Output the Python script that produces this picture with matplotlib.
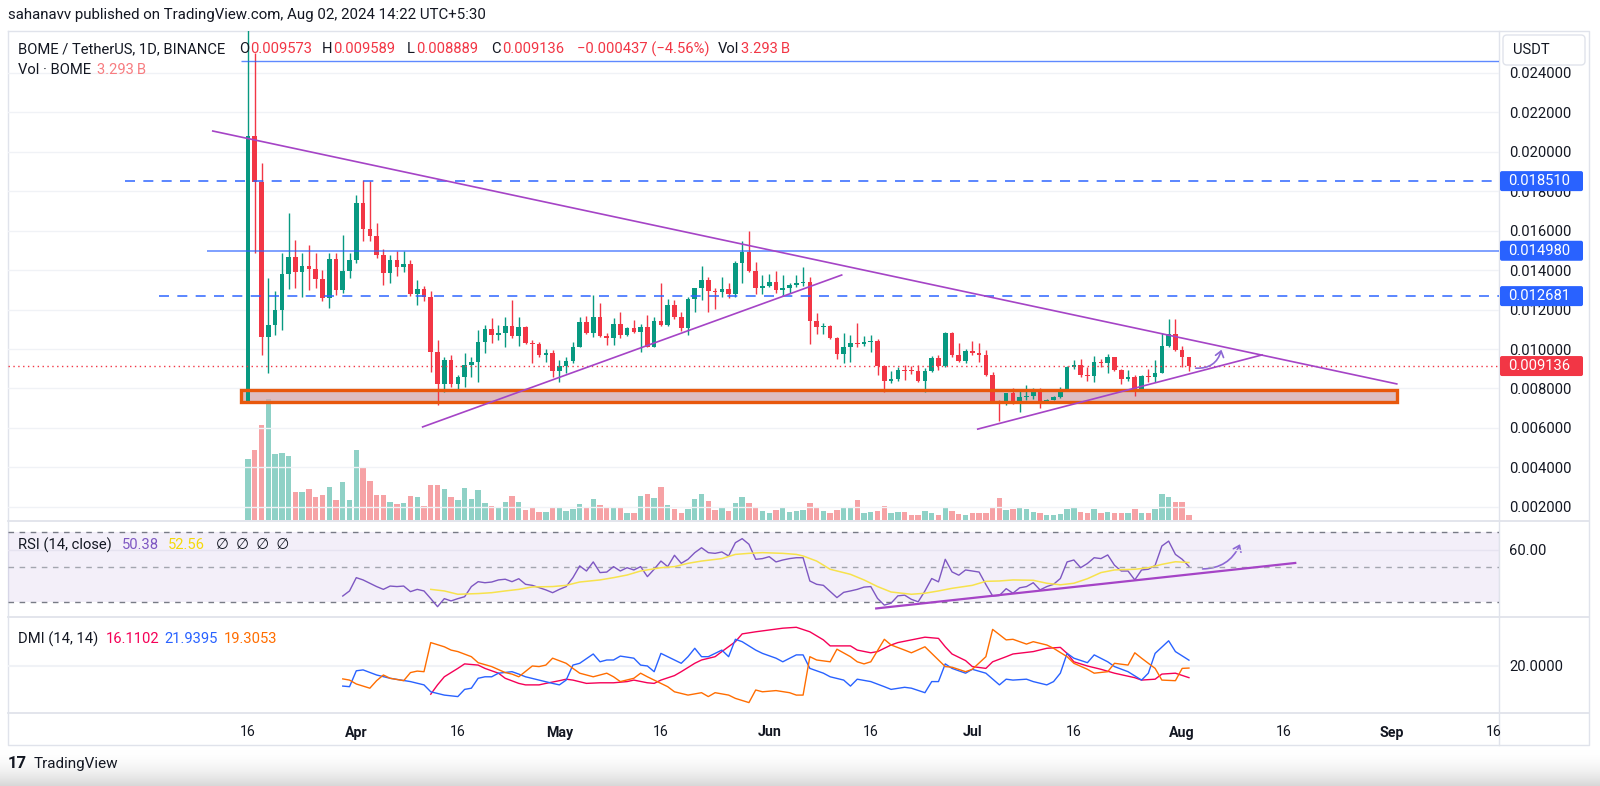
import numpy as np
import matplotlib
matplotlib.use("Agg")
import matplotlib.pyplot as plt
from matplotlib.patches import Rectangle, FancyBboxPatch, FancyArrowPatch
from matplotlib.colors import LinearSegmentedColormap

plt.rcParams['font.family'] = ['Roboto', 'DejaVu Sans']

# BOME / USDT daily candles, index 0 = Mar 16 2024, last = Aug 02 2024
first_open = 0.00732
closes = [
    # Mar 16 - 31
    0.02080, 0.01846, 0.01063, 0.01122, 0.01198, 0.01380, 0.01464, 0.01388, 0.01422, 0.01408,
    0.01354, 0.01261, 0.01456, 0.01297, 0.01393, 0.01453,
    # Apr
    0.01741, 0.01608, 0.01575, 0.01478, 0.01385, 0.01453, 0.01414, 0.01432, 0.01278, 0.01303,
    0.01266, 0.00986, 0.00822, 0.00944, 0.00825, 0.00856, 0.00919, 0.00936, 0.01037, 0.01100,
    0.01071, 0.01080, 0.01117, 0.01066, 0.01110, 0.01029, 0.01024, 0.00971, 0.00981, 0.00888,
    # May
    0.00915, 0.00937, 0.01012, 0.01136, 0.01083, 0.01164, 0.01066, 0.01054, 0.01125, 0.01071,
    0.01105, 0.01088, 0.01114, 0.01012, 0.01144, 0.01122, 0.01224, 0.01161, 0.01108, 0.01256,
    0.01307, 0.01351, 0.01292, 0.01290, 0.01303, 0.01280, 0.01436, 0.01490, 0.01397, 0.01308,
    0.01317,
    # Jun
    0.01339, 0.01300, 0.01308, 0.01325, 0.01334, 0.01341, 0.01144, 0.01114, 0.01117, 0.01054,
    0.00975, 0.01008, 0.01029, 0.01025, 0.01037, 0.01041, 0.00914, 0.00839, 0.00849, 0.00893,
    0.00891, 0.00888, 0.00837, 0.00890, 0.00956, 0.00914, 0.01080, 0.00969, 0.00939, 0.00990,
    # Jul
    0.00981, 0.00969, 0.00868, 0.00737, 0.00732, 0.00775, 0.00724, 0.00758, 0.00763, 0.00792,
    0.00732, 0.00744, 0.00758, 0.00792, 0.00907, 0.00917, 0.00868, 0.00863, 0.00936, 0.00931,
    0.00958, 0.00893, 0.00846, 0.00856, 0.00795, 0.00863, 0.00856, 0.00880, 0.01015, 0.01076,
    0.00995,
    # Aug
    0.009573, 0.009136,
]
highs = [
    0.02850, 0.02500, 0.01941, 0.01359, 0.01292, 0.01486, 0.01690, 0.01554, 0.01486, 0.01529,
    0.01486, 0.01402, 0.01486, 0.01486, 0.01580, 0.01486, 0.01783, 0.01859, 0.01851, 0.01639,
    0.01507, 0.01478, 0.01495, 0.01495, 0.01453, 0.01351, 0.01317, 0.01292, 0.01046, 0.00961,
    0.00969, 0.00868, 0.00978, 0.00961, 0.01097, 0.01122, 0.01156, 0.01122, 0.01164, 0.01249,
    0.01161, 0.01117, 0.01046, 0.01037, 0.00998, 0.00995, 0.00944, 0.00961, 0.01037, 0.01164,
    0.01168, 0.01275, 0.01232, 0.01083, 0.01156, 0.01190, 0.01114, 0.01147, 0.01127, 0.01173,
    0.01161, 0.01337, 0.01253, 0.01249, 0.01190, 0.01266, 0.01308, 0.01419, 0.01364, 0.01308,
    0.01364, 0.01334, 0.01444, 0.01546, 0.01597, 0.01439, 0.01376, 0.01381, 0.01393, 0.01376,
    0.01334, 0.01376, 0.01415, 0.01364, 0.01181, 0.01134, 0.01122, 0.01063, 0.01083, 0.01071,
    0.01134, 0.01066, 0.01071, 0.01049, 0.00919, 0.00890, 0.00907, 0.00919, 0.00914, 0.00919,
    0.00902, 0.00964, 0.00969, 0.01088, 0.01088, 0.01032, 0.00998, 0.01041, 0.01032, 0.00995,
    0.00885, 0.00744, 0.00778, 0.00800, 0.00792, 0.00817, 0.00800, 0.00800, 0.00749, 0.00761,
    0.00805, 0.00914, 0.00944, 0.00947, 0.00907, 0.00964, 0.00947, 0.00975, 0.00961, 0.00897,
    0.00893, 0.00868, 0.00868, 0.00897, 0.00944, 0.01080, 0.01151, 0.01151, 0.01015, 0.009589,
]
lows = [
    0.00730, 0.01486, 0.00969, 0.00876, 0.01071, 0.01097, 0.01303, 0.01308, 0.01266, 0.01300,
    0.01308, 0.01241, 0.01210, 0.01275, 0.01283, 0.01359, 0.01436, 0.01546, 0.01546, 0.01461,
    0.01325, 0.01334, 0.01368, 0.01388, 0.01269, 0.01224, 0.01241, 0.00881, 0.00715, 0.00783,
    0.00805, 0.00792, 0.00808, 0.00859, 0.00834, 0.00978, 0.01032, 0.01046, 0.01012, 0.01054,
    0.01015, 0.01025, 0.00931, 0.00961, 0.00936, 0.00859, 0.00834, 0.00876, 0.00927, 0.01012,
    0.01076, 0.01063, 0.01059, 0.01020, 0.01020, 0.01054, 0.01066, 0.01080, 0.00986, 0.01008,
    0.01008, 0.01117, 0.01117, 0.01151, 0.01093, 0.01071, 0.01190, 0.01249, 0.01190, 0.01202,
    0.01266, 0.01258, 0.01266, 0.01337, 0.01388, 0.01280, 0.01280, 0.01314, 0.01286, 0.01275,
    0.01283, 0.01314, 0.01320, 0.01025, 0.01076, 0.01076, 0.01049, 0.00947, 0.00927, 0.00936,
    0.01012, 0.01015, 0.00986, 0.00868, 0.00783, 0.00829, 0.00839, 0.00842, 0.00871, 0.00834,
    0.00783, 0.00885, 0.00893, 0.00907, 0.00958, 0.00936, 0.00931, 0.00969, 0.00936, 0.00863,
    0.00727, 0.00636, 0.00715, 0.00720, 0.00681, 0.00744, 0.00749, 0.00703, 0.00724, 0.00741,
    0.00754, 0.00788, 0.00897, 0.00859, 0.00839, 0.00834, 0.00907, 0.00880, 0.00890, 0.00825,
    0.00839, 0.00761, 0.00792, 0.00832, 0.00834, 0.00876, 0.01012, 0.00990, 0.00907, 0.008889,
]
# volume, billions of BOME
volumes = [
    42.7, 49.0, 66.5, 84.7, 46.2, 46.9, 44.8, 19.6, 19.6, 21.7,
    16.1, 17.5, 23.1, 14.0, 26.6, 14.0, 49.0, 37.1, 27.3, 17.5,
    17.5, 12.6, 11.2, 11.9, 16.8, 16.1, 9.8, 24.5, 24.5, 21.7,
    16.1, 14.0, 22.4, 14.7, 21.0, 11.9, 9.8, 9.1, 12.6, 16.8,
    12.6, 7.0, 9.1, 5.6, 5.6, 9.1, 8.4, 6.3, 7.7, 11.2,
    8.4, 14.7, 10.5, 8.4, 8.4, 8.4, 4.9, 4.9, 16.8, 18.2,
    15.4, 23.1, 10.5, 7.7, 4.9, 7.7, 14.7, 18.2, 13.3, 7.0,
    9.1, 6.3, 11.9, 16.1, 11.9, 9.1, 6.3, 4.9, 7.0, 9.1,
    5.6, 6.3, 7.0, 11.9, 8.4, 6.3, 4.9, 7.0, 9.1, 9.1,
    14.0, 4.9, 5.6, 6.3, 9.8, 4.9, 5.6, 5.6, 3.5, 3.5,
    6.3, 4.9, 3.5, 8.4, 6.3, 4.2, 3.5, 4.9, 4.9, 4.9,
    8.4, 15.4, 7.0, 7.7, 9.1, 7.7, 5.6, 4.9, 3.5, 3.5,
    4.2, 7.7, 9.1, 5.6, 4.9, 7.7, 4.9, 5.6, 4.9, 4.9,
    4.9, 7.7, 4.9, 4.9, 7.7, 18.2, 16.1, 12.6, 12.6, 3.293,
]

# RSI(14) from index 14 on, and its moving average
rsi_start = 14
rsi = [
    33.4, 36.3, 43.9, 42.6, 40.7, 38.8, 37.2, 39.1, 38.8, 39.1,
    35.9, 37.2, 36.3, 31.9, 27.3, 31.9, 30.6, 31.9, 33.0, 38.8,
    41.6, 41.0, 41.4, 42.6, 43.0, 41.6, 43.3, 40.1, 39.5, 38.2,
    36.9, 35.3, 37.2, 38.8, 43.9, 50.6, 47.7, 52.9, 46.8, 47.1,
    50.2, 47.7, 49.6, 48.3, 50.2, 44.5, 48.7, 53.4, 50.2, 56.7,
    52.1, 54.4, 58.2, 61.0, 58.2, 57.8, 58.6, 56.3, 63.9, 66.2,
    63.0, 54.4, 54.8, 55.9, 52.9, 54.0, 54.8, 55.3, 55.3, 42.0,
    40.1, 39.5, 36.0, 32.5, 35.5, 36.3, 37.2, 38.5, 38.8, 32.0,
    28.2, 29.3, 33.5, 33.9, 31.5, 30.1, 36.3, 43.4, 41.5, 54.4,
    47.2, 45.3, 48.3, 47.7, 47.1, 40.0, 33.4, 33.7, 37.6, 35.0,
    38.1, 38.8, 41.0, 36.9, 38.8, 40.1, 43.4, 52.9, 54.0, 49.6,
    52.0, 55.3, 54.8, 56.9, 51.0, 47.7, 47.7, 42.6, 48.3, 48.7,
    50.9, 62.0, 64.8, 57.2, 54.4, 50.38,
]
rsi_ma_idx = [27, 29, 31, 34, 36, 38, 40, 42, 45, 47, 49, 52, 54, 56, 58, 61, 63, 65, 67, 70,
              72, 74, 76, 79, 81, 82, 84, 86, 89, 91, 93, 95, 98, 100, 102, 104, 107, 109, 111,
              113, 116, 118, 120, 122, 124, 126, 128, 131, 133, 135, 137, 139]
rsi_ma = [37.2, 36.3, 34.4, 34.8, 35.3, 36.3, 37.2, 38.6, 38.8, 39.5, 41.4, 42.6, 43.9, 45.4,
          47.7, 49.6, 50.2, 52.1, 53.4, 54.8, 57.2, 57.8, 58.2, 57.8, 57.2, 56.3, 53.4, 48.7,
          45.8, 42.6, 38.8, 35.7, 34.4, 35.0, 36.3, 37.8, 39.5, 41.8, 42.0, 42.6, 42.4, 40.7,
          39.8, 40.7, 43.3, 46.8, 48.3, 48.7, 49.6, 51.5, 53.0, 52.56]

# DMI (14, 14)
plus_di_idx = [14, 15, 16, 17, 19, 21, 24, 26, 27, 29, 31, 32, 33, 34, 35, 36, 37, 39, 40, 41,
               43, 45, 46, 47, 48, 49, 51, 52, 53, 54, 55, 57, 58, 59, 60, 61, 62, 64, 65, 66,
               67, 68, 70, 71, 72, 73, 75, 76, 78, 79, 81, 82, 83, 85, 86, 88, 89, 90, 92, 94,
               95, 97, 98, 100, 101, 102, 103, 104, 106, 107, 109, 111, 112, 113, 115, 116, 118,
               119, 120, 121, 122, 124, 125, 127, 128, 130, 132, 133, 134, 136, 137, 139]
plus_di = [13.3, 13.1, 18.4, 18.7, 17.0, 15.9, 14.8, 13.7, 11.4, 10.3, 9.8, 12.2, 12.6, 15.9,
           16.4, 16.4, 17.6, 18.1, 17.3, 16.4, 15.3, 14.2, 13.7, 15.3, 20.3, 20.9, 24.0, 21.4,
           22.0, 22.0, 23.3, 22.6, 20.3, 20.0, 18.1, 24.2, 23.1, 20.9, 23.1, 25.9, 23.1, 23.1,
           25.3, 23.1, 28.9, 28.1, 25.3, 24.2, 22.6, 21.4, 23.7, 23.7, 19.2, 17.6, 16.4, 15.3,
           13.3, 15.6, 14.8, 13.1, 12.2, 12.9, 12.6, 11.1, 14.8, 14.8, 20.7, 19.2, 17.6, 18.9,
           17.6, 13.7, 15.6, 15.3, 15.6, 14.8, 13.7, 14.8, 17.6, 24.2, 22.6, 21.1, 23.7, 21.4,
           19.8, 18.1, 15.3, 17.6, 24.2, 28.4, 24.8, 21.94]
minus_di_idx = [14, 15, 16, 18, 19, 20, 21, 23, 24, 25, 26, 27, 29, 30, 31, 33, 34, 36, 38, 39,
                40, 42, 43, 44, 45, 47, 48, 49, 51, 53, 54, 55, 57, 58, 59, 61, 62, 63, 65, 67,
                68, 69, 71, 72, 74, 75, 76, 78, 80, 81, 82, 83, 84, 86, 87, 89, 90, 91, 92, 94,
                95, 97, 98, 100, 101, 103, 104, 106, 107, 109, 110, 112, 113, 115, 116, 118, 119,
                121, 122, 124, 125, 127, 128, 130, 131, 132, 134, 135, 137, 138, 139]
minus_di = [15.7, 15.3, 14.0, 12.6, 15.1, 17.0, 15.9, 15.1, 17.8, 18.3, 18.1, 27.8, 26.4, 25.3,
            24.8, 23.1, 21.1, 19.8, 17.8, 17.3, 16.4, 20.0, 19.8, 20.3, 22.6, 20.9, 19.2, 17.6,
            16.4, 17.6, 16.4, 14.8, 15.9, 17.6, 16.4, 14.2, 13.1, 11.4, 10.3, 11.1, 9.8, 11.1,
            10.3, 9.2, 7.8, 12.0, 11.4, 11.8, 11.1, 10.3, 10.3, 23.1, 22.0, 21.4, 25.6, 23.1,
            21.4, 20.7, 21.4, 28.9, 27.0, 25.3, 24.4, 26.4, 24.2, 19.8, 19.6, 18.1, 18.9, 23.1,
            32.2, 28.7, 28.9, 27.3, 28.1, 27.0, 25.9, 23.1, 20.9, 18.9, 17.6, 18.1, 20.9, 20.3,
            24.4, 22.6, 19.2, 15.3, 15.1, 19.2, 19.31]
adx_idx = [27, 28, 29, 31, 32, 34, 35, 37, 38, 40, 41, 43, 44, 46, 47, 48, 50, 52, 54, 56, 57,
           59, 60, 61, 63, 64, 66, 67, 69, 70, 72, 73, 75, 77, 79, 81, 83, 85, 86, 89, 90, 92,
           93, 95, 96, 98, 100, 102, 103, 104, 106, 107, 109, 110, 112, 113, 116, 118, 120, 121,
           122, 124, 126, 128, 131, 132, 134, 135, 137, 139]
adx = [10.6, 13.7, 16.4, 19.2, 20.7, 20.3, 19.2, 17.6, 15.9, 14.2, 13.7, 13.7, 14.2, 15.1, 15.6,
       15.3, 14.2, 14.4, 14.4, 14.8, 15.3, 14.4, 14.2, 15.3, 16.8, 18.1, 20.9, 22.0, 23.1, 24.8,
       28.1, 30.7, 31.4, 32.0, 32.6, 32.9, 31.4, 28.7, 26.7, 26.7, 25.3, 24.4, 24.8, 27.0, 27.8,
       28.7, 29.6, 29.2, 26.4, 24.0, 21.8, 19.8, 19.2, 21.4, 23.1, 24.0, 24.8, 25.9, 26.2, 24.2,
       21.4, 20.0, 18.9, 17.6, 16.1, 15.3, 15.6, 17.3, 17.6, 16.11]

date_ticks = [0, 16, 31, 46, 61, 77, 92, 107, 122, 138, 153, 169, 184]
date_labels = ['16', 'Apr', '16', 'May', '16', 'Jun', '16', 'Jul', '16', 'Aug', '16', 'Sep', '16']
price_ticks = [0.002, 0.004, 0.006, 0.008, 0.010, 0.012, 0.014, 0.016, 0.018, 0.020, 0.022, 0.024]

# drawn levels and shapes (index, price)
top_level = 0.02461
levels = [(0.018510, '--', -18.2), (0.014980, '-', -6.1), (0.012681, '--', -13.1)]
last_price = 0.009136
zone = (-1.0, 169.7, 0.00731, 0.00792)
tri_upper = ([-5.2, 169.7], [0.02105, 0.00823])
tri_left = ([25.8, 87.7], [0.00605, 0.01375])
tri_right = ([107.8, 149.8], [0.00594, 0.0097])
price_arrow = ((139.6, 0.00904), (143.9, 0.0101))
rsi_trend = ([92.8, 154.7], [26.3, 52.3])
rsi_arrow = ((140.6, 48.9), (146.7, 64.5))

UP, DOWN = '#089981', '#f23645'
TXT = '#131722'
PURPLE = '#a544c6'
BLUE = '#2962ff'
GRID = '#f0f2f6'
XMIN, XMAX = -35.45, 184.8

W, H = 1600, 786
fig = plt.figure(figsize=(16, 7.86), dpi=100)


def rect(x0, y0, x1, y1):
    return [x0 / W, 1 - y1 / H, (x1 - x0) / W, (y1 - y0) / H]


def ftext(x, y, s, **kw):
    kw.setdefault('color', TXT)
    kw.setdefault('fontsize', 10.6)
    return fig.text(x / W, 1 - y / H, s, va='center', ha='left', **kw)


# background frame and bottom shadow
bg = fig.add_axes([0, 0, 1, 1], zorder=0)
grad = np.linspace(0, 1, 60).reshape(-1, 1) ** 2
bg.imshow(grad, cmap=LinearSegmentedColormap.from_list('sh', ['#ffffff', '#d8d8d8']),
          extent=(0, W, H, 748), aspect='auto')
bg.set_xlim(0, W)
bg.set_ylim(H, 0)
bg.axis('off')
fc = '#e0e3eb'
bg.plot([8, 1589, 1589, 8, 8], [31, 31, 745, 745, 31], color=fc, lw=1)
for yy in (520.5, 617, 713):
    bg.plot([8, 1589], [yy, yy], color=fc, lw=1.3)
bg.plot([1499, 1499], [31, 745], color=fc, lw=1)

# price panel + volume
ax_v = fig.add_axes(rect(8, 31, 1499, 520), zorder=1)
ax_p = fig.add_axes(rect(8, 31, 1499, 520), zorder=2)
for a in (ax_v, ax_p):
    a.patch.set_alpha(0)
    for s in a.spines.values():
        s.set_visible(False)
    a.set_xlim(XMIN, XMAX)
    a.set_xticks([])

idx = np.arange(len(closes))
c = np.array(closes)
o = np.r_[first_open, c[:-1]]
hi = np.maximum(np.array(highs), np.maximum(o, c))
lo = np.minimum(np.array(lows), np.minimum(o, c))
up = c >= o
col = np.where(up, UP, DOWN)

ax_v.bar(idx, volumes, width=0.8, color=np.where(up, '#8fd1c6', '#f6a2a5'), linewidth=0)
ax_v.set_ylim(0, 342)
ax_v.set_yticks([])

ax_p.set_ylim(0.001332, 0.02612)
ax_p.yaxis.tick_right()
ax_p.set_yticks(price_ticks)
ax_p.set_yticklabels(['%.6f' % t for t in price_ticks])
ax_p.tick_params(axis='y', length=0, pad=7.5, labelsize=10.6, labelcolor=TXT)
for t in price_ticks:
    ax_p.axhline(t, color=GRID, lw=1, zorder=0)

ax_p.add_patch(Rectangle((zone[0], zone[2]), zone[1] - zone[0], zone[3] - zone[2],
                         facecolor='#d2a7ad', alpha=0.75, edgecolor='none', zorder=2))
ax_p.add_patch(Rectangle((zone[0], zone[2]), zone[1] - zone[0], zone[3] - zone[2],
                         facecolor='none', edgecolor='#e8580c', lw=2.4, zorder=6))

ax_p.vlines(idx, lo, hi, colors=col, lw=1, zorder=3)
ax_p.bar(idx, np.maximum(np.abs(c - o), 0.00004), bottom=np.minimum(o, c), width=0.68,
         color=col, linewidth=0, zorder=4)

ax_p.hlines(top_level, -1.0, XMAX, color=BLUE, lw=1, alpha=0.75, zorder=5)
for y, ls, x0 in levels:
    ax_p.hlines(y, x0, XMAX, color=BLUE, lw=1.2, linestyles=(0, (6, 5)) if ls == '--' else '-',
                alpha=0.9 if ls == '--' else 0.7, zorder=5)
ax_p.axhline(last_price, color=DOWN, lw=1, ls=(0, (1, 2.5)), zorder=5)

for xs, ys in (tri_upper, tri_left, tri_right):
    ax_p.plot(xs, ys, color=PURPLE, lw=1.2, zorder=6)
ax_p.add_patch(FancyArrowPatch(price_arrow[0], price_arrow[1], connectionstyle='arc3,rad=0.45',
                               arrowstyle='->,head_length=4,head_width=3', color='#8c68d4',
                               lw=1.2, zorder=7))

# RSI panel
ax_r = fig.add_axes(rect(8, 521, 1499, 617), zorder=2)
ax_r.patch.set_alpha(0)
for s in ax_r.spines.values():
    s.set_visible(False)
ax_r.set_xlim(XMIN, XMAX)
ax_r.set_ylim(21.4, 76.3)
ax_r.set_xticks([])
ax_r.axhspan(30, 70, color='#7e57c2', alpha=0.09, lw=0)
ax_r.axhline(60, color='#e6e3f0', lw=1)
for lvl, cl in ((70, '#787b86'), (50, '#a3a6af'), (30, '#787b86')):
    ax_r.axhline(lvl, color=cl, lw=1, ls=(0, (4, 4)))
ax_r.plot(np.arange(rsi_start, rsi_start + len(rsi)), rsi, color='#7e57c2', lw=1)
ax_r.plot(rsi_ma_idx, rsi_ma, color='#f7e24c', lw=1.1)
ax_r.plot(rsi_trend[0], rsi_trend[1], color=PURPLE, lw=1.6)
ax_r.add_patch(FancyArrowPatch(rsi_arrow[0], rsi_arrow[1], connectionstyle='arc3,rad=0.35',
                               arrowstyle='->,head_length=4,head_width=3', color='#8c68d4',
                               lw=1.2))
ax_r.yaxis.tick_right()
ax_r.set_yticks([60])
ax_r.set_yticklabels(['60.00'])
ax_r.tick_params(axis='y', length=0, pad=7.5, labelsize=10.6, labelcolor=TXT)

# DMI panel
ax_d = fig.add_axes(rect(8, 617, 1499, 713), zorder=2)
ax_d.patch.set_alpha(0)
for s in ax_d.spines.values():
    s.set_visible(False)
ax_d.set_xlim(XMIN, XMAX)
ax_d.set_ylim(4.33, 36.33)
ax_d.axhline(20, color=GRID, lw=1.5)
ax_d.plot(adx_idx, adx, color='#f50057', lw=1)
ax_d.plot(plus_di_idx, plus_di, color=BLUE, lw=1)
ax_d.plot(minus_di_idx, minus_di, color='#ff6d00', lw=1)
ax_d.yaxis.tick_right()
ax_d.set_yticks([20])
ax_d.set_yticklabels(['20.0000'])
ax_d.tick_params(axis='y', length=0, pad=7.5, labelsize=10.6, labelcolor=TXT)
ax_d.set_xticks(date_ticks)
ax_d.set_xticklabels(date_labels)
ax_d.tick_params(axis='x', length=0, pad=9, labelsize=10.2, labelcolor=TXT)
for lab in ax_d.get_xticklabels():
    if not lab.get_text().isdigit():
        lab.set_fontweight('bold')

# overlay: price-scale badges
ov = fig.add_axes([0, 0, 1, 1], zorder=10)
ov.set_xlim(0, W)
ov.set_ylim(H, 0)
ov.axis('off')
badges = [(0.018510, BLUE), (0.014980, BLUE), (0.012681, BLUE), (last_price, DOWN)]
for val, bc in badges:
    yy = H - ax_p.transData.transform((0, val))[1]
    ov.add_patch(FancyBboxPatch((1500, yy - 10), 83, 20, boxstyle='round,pad=0,rounding_size=2',
                                fc=bc, ec='none'))
    ov.text(1508, yy, '%.6f' % val, color='white', fontsize=10.6, va='center', ha='left')
ov.add_patch(FancyBboxPatch((1503, 35), 82, 30, boxstyle='round,pad=0,rounding_size=4',
                            fc='white', ec='#e0e3eb', lw=1))
ov.text(1513, 50, 'USDT', color=TXT, fontsize=10.6, va='center', ha='left')

# header texts
ftext(8, 15, 'sahanavv published on TradingView.com, Aug 02, 2024 14:22 UTC+5:30', fontsize=10.8)
ftext(18, 49, 'BOME / TetherUS, 1D, BINANCE')
for x, s, cl in [(239, 'O', TXT), (250, '0.009573', DOWN), (322, 'H', TXT), (333, '0.009589', DOWN),
                 (407, 'L', TXT), (416, '0.008889', DOWN), (491, 'C', TXT), (502, '0.009136', DOWN),
                 (577, '\u22120.000437 (\u22124.56%)', DOWN), (718, 'Vol', TXT),
                 (741, '3.293\u2009B', DOWN)]:
    ftext(x, 49, s, color=cl)
ftext(18, 70, 'Vol \u00b7 BOME')
ftext(97, 70, '3.293\u2009B', color='#f77c80')

ftext(18, 545, 'RSI (14, close)')
ftext(122, 545, '50.38', color='#7e57c2')
ftext(168, 545, '52.56', color='#f5d90a')
ftext(216, 545, '\u2205  \u2205  \u2205  \u2205')

ftext(18, 639, 'DMI (14, 14)')
ftext(106, 639, '16.1102', color='#f50057')
ftext(164, 639, '21.9395', color=BLUE)
ftext(224, 639, '19.3053', color='#ff6d00')

ftext(8, 764, '17', fontsize=12, fontweight='bold')
ftext(34, 764, 'TradingView', fontsize=11)

fig.savefig('out.png', dpi=100, facecolor='white')
